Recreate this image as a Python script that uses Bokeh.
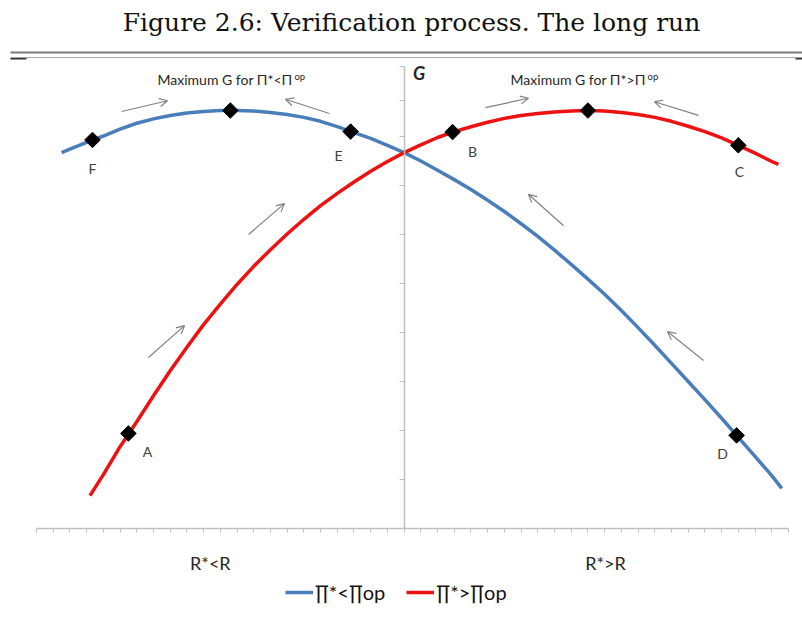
import math

from bokeh.embed import file_html
from bokeh.models import (Arrow, BoxAnnotation, ColumnDataSource, FixedTicker,
                          Label, Legend, LegendItem, LinearAxis, OpenHead, Range1d)
from bokeh.plotting import figure
from bokeh.resources import INLINE

# ---- data -----------------------------------------------------------------
# x: position along the R axis (category steps, G axis sits at step 22)
# g: value of G

# Pi* < Pi_op (blue curve)
blue_x = [1.5, 2, 3, 4, 5, 6, 7, 8, 9, 10, 11, 12, 13, 14, 15, 16, 17, 18,
          19, 20, 21, 22, 23, 24, 25, 26, 27, 28, 29, 30, 31, 32, 33, 34, 35,
          36, 37, 38, 39, 40, 41, 42, 43, 44, 44.6]
blue_g = [7.67, 7.74, 7.88, 8.01, 8.15, 8.27, 8.36, 8.43, 8.48, 8.51, 8.53,
          8.53, 8.52, 8.49, 8.45, 8.39, 8.31, 8.20, 8.08, 7.96, 7.82, 7.67,
          7.50, 7.31, 7.12, 6.92, 6.70, 6.47, 6.22, 5.96, 5.68, 5.39, 5.09,
          4.78, 4.45, 4.10, 3.74, 3.37, 3.00, 2.63, 2.25, 1.86, 1.47, 1.08,
          0.82]

# Pi* > Pi_op (red curve)
red_x = [3.2, 4, 5, 6, 7, 8, 9, 10, 11, 12, 13, 14, 15, 16, 17, 18, 19, 20,
         21, 22, 23, 24, 25, 26, 27, 28, 29, 30, 31, 32, 33, 34, 35, 36, 37,
         38, 39, 40, 41, 42, 43, 44, 44.4]
red_g = [0.67, 1.10, 1.67, 2.18, 2.71, 3.22, 3.70, 4.16, 4.58, 4.98, 5.35,
         5.69, 6.01, 6.31, 6.59, 6.84, 7.07, 7.29, 7.49, 7.67, 7.83, 7.98,
         8.10, 8.20, 8.29, 8.37, 8.43, 8.47, 8.50, 8.52, 8.53, 8.52, 8.49,
         8.45, 8.39, 8.31, 8.21, 8.10, 7.97, 7.82, 7.66, 7.49, 7.43]

# marked states on each curve ("" = unnamed maximum)
blue_pts_x = [3.35, 11.6, 18.8, 41.9]
blue_pts_g = [7.93, 8.53, 8.10, 1.90]
blue_pts_name = ["F", "", "E", "D"]

red_pts_x = [5.5, 24.9, 33, 42]
red_pts_g = [1.94, 8.09, 8.53, 7.82]
red_pts_name = ["A", "B", "", "C"]

# direction-of-adjustment arrows (start -> end)
arrow_x0 = [5.09, 17.53, 26.87, 39.62, 6.70, 12.69, 31.54, 39.92]
arrow_g0 = [8.51, 8.47, 8.59, 8.43, 3.49, 6.00, 6.18, 3.43]
arrow_x1 = [7.84, 14.90, 29.44, 36.98, 8.86, 14.84, 29.44, 37.76]
arrow_g1 = [8.73, 8.76, 8.78, 8.71, 4.14, 6.63, 6.82, 4.02]

x_ticks = list(range(0, 46))
g_ticks = [1, 2, 3, 4, 5, 6, 7, 8, 8.73, 9.43]
G_AXIS_AT = 22

series_names = ["\u220f*<\u220fop", "\u220f*>\u220fop"]
side_labels = ["R*<R", "R*>R"]
side_label_x = [10.4, 34.05]
title_text = "Figure 2.6: Verification process. The long run"

# ---- styling ----------------------------------------------------------------
W, H = 802, 635
BLUE = "#4A7EBB"
RED = "#EE1111"
AXIS_GREY = "#BFBFBF"
ARROW_GREY = "#808080"
SANS = "Lato"

PX_PER_X = 16.71
PX_PER_G = 49.0
X0_PX, G0_PX = 36.0, 528.0

p = figure(
    width=W, height=H,
    x_range=Range1d(-X0_PX / PX_PER_X, (W - X0_PX) / PX_PER_X),
    y_range=Range1d((G0_PX - H) / PX_PER_G, G0_PX / PX_PER_G),
    x_axis_type=None, y_axis_type=None,
    toolbar_location=None, output_backend="svg",
    min_border=0, outline_line_color=None,
    background_fill_color="white", border_fill_color="white",
)
p.xgrid.visible = False
p.ygrid.visible = False

# horizontal R axis through G = 0 (tick marks only, no numbers)
xaxis = LinearAxis(fixed_location=0, bounds=(0, 45),
                   ticker=FixedTicker(ticks=x_ticks, minor_ticks=[]),
                   major_label_text_color=None,
                   axis_line_color=AXIS_GREY, axis_line_width=1.5,
                   major_tick_line_color=AXIS_GREY, major_tick_out=4,
                   major_tick_in=0, minor_tick_line_color=None)
p.add_layout(xaxis, "below")

# vertical G axis in the middle
gaxis = LinearAxis(fixed_location=G_AXIS_AT, bounds=(0, 9.43),
                   ticker=FixedTicker(ticks=g_ticks, minor_ticks=[]),
                   major_label_text_color=None,
                   axis_line_color=AXIS_GREY, axis_line_width=1.5,
                   major_tick_line_color=AXIS_GREY, major_tick_out=5,
                   major_tick_in=0, minor_tick_line_color=None)
p.add_layout(gaxis, "left")

# curves
blue_src = ColumnDataSource(dict(x=blue_x, g=blue_g))
red_src = ColumnDataSource(dict(x=red_x, g=red_g))
r_blue = p.line("x", "g", source=blue_src, line_color=BLUE, line_width=3.5,
                line_join="round", line_cap="butt")
r_red = p.line("x", "g", source=red_src, line_color=RED, line_width=3.5,
               line_join="round", line_cap="butt")

# diamonds
for xs, gs in ((blue_pts_x, blue_pts_g), (red_pts_x, red_pts_g)):
    p.scatter(xs, gs, marker="square", size=11, angle=math.pi / 4,
              fill_color="black", line_color="black")

# point names, offset below/right of each diamond
name_offsets = {"F": (0, -29), "E": (-12, -24), "D": (-14, -18),
                "A": (19, -18), "B": (20, -19), "C": (1, -26)}
for xs, gs, names in ((blue_pts_x, blue_pts_g, blue_pts_name),
                      (red_pts_x, red_pts_g, red_pts_name)):
    for x, g, n in zip(xs, gs, names):
        if not n:
            continue
        dx, dy = name_offsets[n]
        p.add_layout(Label(x=x, y=g, x_offset=dx, y_offset=dy, text=n,
                           text_font=SANS, text_font_size="14px",
                           text_color="#404040", text_align="center",
                           text_baseline="middle"))

# arrows
for x0, g0, x1, g1 in zip(arrow_x0, arrow_g0, arrow_x1, arrow_g1):
    p.add_layout(Arrow(x_start=x0, y_start=g0, x_end=x1, y_end=g1,
                       line_color=ARROW_GREY, line_width=1.2,
                       end=OpenHead(size=8, line_color=ARROW_GREY,
                                    line_width=1.2)))

# headings above each half
for xl, rel in ((7.24, "<"), (28.37, ">")):
    p.add_layout(Label(x=xl, y=9.16, text=f"Maximum G for \u03a0*{rel}\u03a0",
                       text_font=SANS, text_font_size="14px",
                       text_color="#262626", text_baseline="middle"))
    p.add_layout(Label(x=xl, y=9.16, x_offset=137, y_offset=3, text="op",
                       text_font=SANS, text_font_size="9.5px",
                       text_color="#262626", text_baseline="middle"))

# G axis name
p.add_layout(Label(x=G_AXIS_AT, y=9.43, x_offset=9, y_offset=-7, text="G",
                   text_font=SANS, text_font_style="bold italic",
                   text_font_size="18px", text_color="#262626",
                   text_baseline="middle"))

# side captions under the R axis
for xs, t in zip(side_label_x, side_labels):
    p.add_layout(Label(x=xs, y=0, y_offset=-34, text=t, text_font=SANS,
                       text_font_size="18px", text_color="#262626",
                       text_align="center", text_baseline="middle"))

# legend
legend = Legend(items=[LegendItem(label=series_names[0], renderers=[r_blue]),
                       LegendItem(label=series_names[1], renderers=[r_red])],
                orientation="horizontal", location=(285, 31),
                label_text_font=SANS, label_text_font_size="20px",
                label_text_color="#111111", glyph_width=28, glyph_height=20,
                label_standoff=2, spacing=21, padding=0, margin=0,
                border_line_color=None, background_fill_alpha=0)
p.add_layout(legend)

# page title and rules
p.add_layout(Label(x=411, y=H - 22, x_units="screen", y_units="screen",
                   text=title_text, text_font="DejaVu Serif",
                   text_font_size="25px", text_color="#111111",
                   text_align="center", text_baseline="middle"))
rules = [  # (left, right, top, bottom, colour) in screen px from bottom-left
    (10, W, H - 51, H - 53, "#7a7a7a"),
    (10, W, H - 56.5, H - 57.5, "#a8a8a8"),
    (10, 26, H - 57.5, H - 59, "#333333"),
    (795, W, H - 57.5, H - 59, "#333333"),
]
for l, r, t, b, c in rules:
    p.add_layout(BoxAnnotation(left=l, right=r, top=t, bottom=b,
                               left_units="screen", right_units="screen",
                               top_units="screen", bottom_units="screen",
                               fill_color=c, fill_alpha=1, line_color=None))

open("out.html", "w").write(file_html(p, INLINE))
